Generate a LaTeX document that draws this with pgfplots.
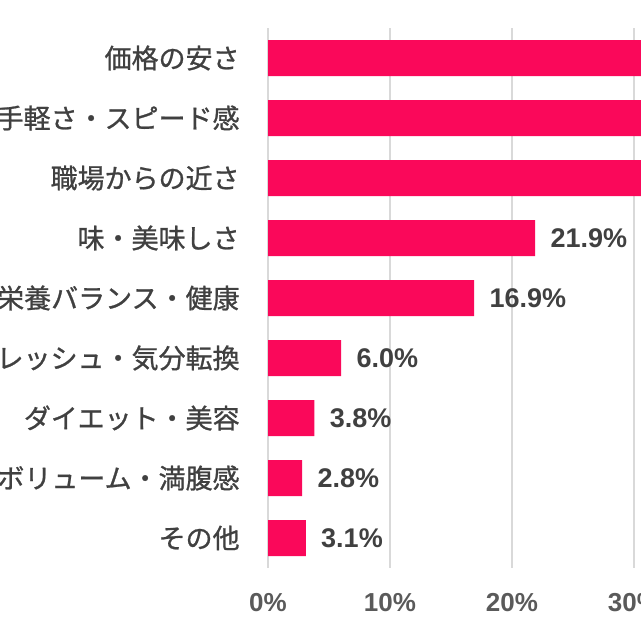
\documentclass[border=0pt]{standalone}
\usepackage{fontspec}
\usepackage{pgfplots}
\pgfplotsset{compat=1.18}
\setmainfont{Noto Sans CJK JP}
\newfontfamily\jpfont{Noto Sans CJK JP}[FakeBold=0.9]
\newfontfamily\numfont{Liberation Sans}
\definecolor{barpink}{RGB}{250,8,90}
\definecolor{labelgray}{RGB}{64,64,64}
\definecolor{tickgray}{RGB}{90,90,90}
\definecolor{gridgray}{RGB}{217,217,217}

\begin{document}
\begin{tikzpicture}
\begin{axis}[
    at={(134pt,36pt)}, anchor=south west,
    scale only axis,
    width=305pt, height=270pt,
    xbar, bar width=18pt,
    xmin=0, xmax=50,
    ymin=-0.5, ymax=8.5,
    y dir=reverse,
    /pgf/number format/assume math mode=true,
    xtick={0,10,20,30,40,50},
    xticklabel={\pgfmathprintnumber{\tick}\%},
    ytick={0,...,8},
    yticklabels={価格の安さ, 手軽さ・スピード感, 職場からの近さ, 味・美味しさ,
        栄養バランス・健康, リフレッシュ・気分転換, ダイエット・美容,
        ボリューム・満腹感, その他},
    major tick length=0pt,
    axis line style={draw=none},
    xmajorgrids,
    grid style={gridgray, line width=0.6pt},
    yticklabel style={anchor=east, inner sep=0pt, xshift=-14pt,
        font=\jpfont\fontsize{13.5}{16}\selectfont, text=labelgray},
    xticklabel style={anchor=center, inner sep=0pt, yshift=-17.5pt,
        font=\numfont\bfseries\fontsize{13}{15}\selectfont, text=tickgray},
    nodes near coords={\pgfmathprintnumber[fixed,fixed zerofill,precision=1]{\pgfplotspointmeta}\%},
    nodes near coords style={anchor=west, inner sep=0pt, xshift=7.5pt,
        font=\numfont\bfseries\fontsize{13.5}{16}\selectfont, text=labelgray},
]
\addplot[fill=barpink, draw=none] coordinates {
    (45.0,0) (38.0,1) (33.0,2) (21.9,3) (16.9,4)
    (6.0,5) (3.8,6) (2.8,7) (3.1,8)
};
\end{axis}
\pgfresetboundingbox
\path[use as bounding box] (0,0) rectangle (320pt,320pt);
\end{tikzpicture}
\end{document}
